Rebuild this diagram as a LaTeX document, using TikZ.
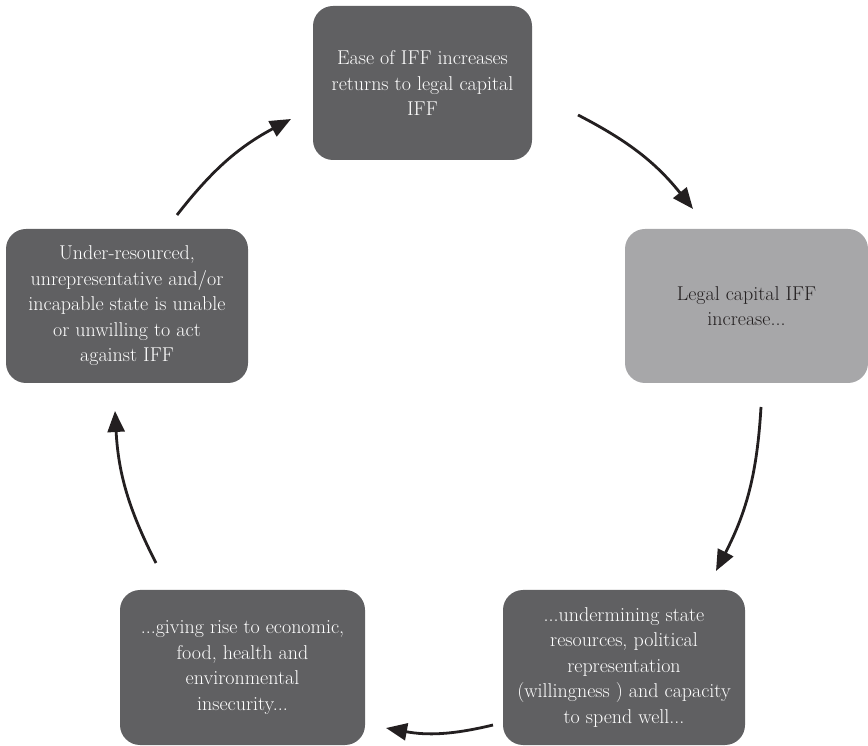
\documentclass[tikz,border=0pt]{standalone}
\usepackage{tikz}
\usetikzlibrary{arrows.meta}
\definecolor{boxdark}{HTML}{606062}
\definecolor{boxlight}{HTML}{A7A7A9}
\definecolor{inkdark}{HTML}{231F20}

\begin{document}
\begin{tikzpicture}[x=1pt, y=1pt,
	every node/.style={font=\fontsize{20}{25.5}\selectfont},
	box/.style={rounded corners=20pt, fill=boxdark, text=white, align=center, inner sep=0pt, minimum height=154pt},
	cyc/.style={-{Triangle[length=21pt, width=17pt]}, line width=2.8pt, inkdark, bend left=12}]
	\useasboundingbox (0,0) rectangle (868,745);
	% boxes of the cycle
	\node[box, minimum width=219pt] (ease) at (422.5,662) {Ease of IFF increases\\returns to legal capital\\IFF};
	\node[box, minimum width=243pt, fill=boxlight, text=inkdark] (legal) at (746.5,439) {Legal capital IFF\\increase...};
	\node[box, minimum width=242pt, minimum height=155pt] (undermine) at (624,77.5) {...undermining state\\resources, political\\representation\\(willingness ) and capacity\\to spend well...};
	\node[box, minimum width=245pt, minimum height=155pt] (insecure) at (242.5,77.5) {...giving rise to economic,\\food, health and\\environmental\\insecurity...};
	\node[box, minimum width=242pt] (state) at (127,439) {Under-resourced,\\unrepresentative and/or\\incapable state is unable\\or unwilling to act\\against IFF};
	% arrow ends
	\coordinate (s1) at (177,530); \coordinate (e1) at (291,626);
	\coordinate (s2) at (578,630); \coordinate (e2) at (693,536);
	\coordinate (s3) at (761,338); \coordinate (e3) at (716,174);
	\coordinate (s4) at (493,20);  \coordinate (e4) at (386,17);
	\coordinate (s5) at (156,182); \coordinate (e5) at (115,334);
	\foreach \i in {1,...,5} {\draw[cyc] (s\i) to (e\i);}
\end{tikzpicture}
\end{document}
